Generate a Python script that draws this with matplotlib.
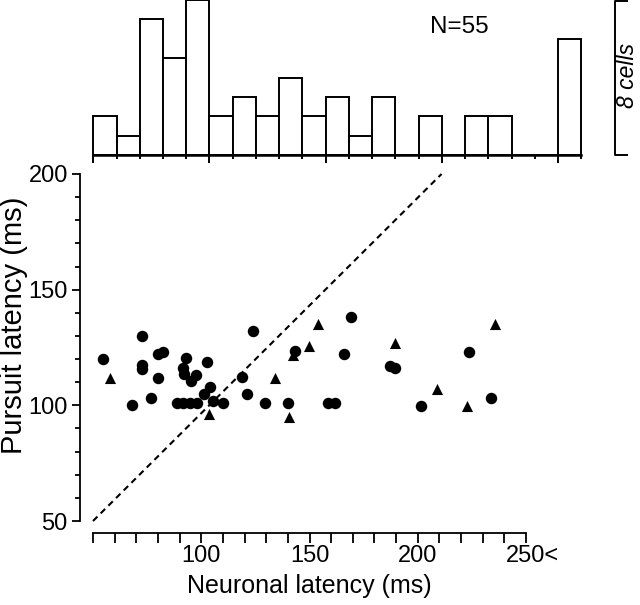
import numpy as np
import matplotlib
matplotlib.use('Agg')
import matplotlib.pyplot as plt
from matplotlib import transforms

plt.rcParams['font.family'] = ['Liberation Sans', 'DejaVu Sans']

# histogram of neuronal latency, 10 ms bins (last bin = 250<)
bin_left = np.arange(50, 260, 10)
hist_counts = [2, 1, 7, 5, 8, 2, 3, 2, 4, 2, 3, 1, 3, 0, 2, 0, 2, 2, 0, 0, 6]

# scatter: neuronal latency vs pursuit latency
circle_x = [54.5, 68.2, 72.5, 72.5, 72.8, 76.8, 80.2, 82.5, 80.2, 93.0,
            91.7, 92.0, 95.3, 97.6, 88.7, 91.7, 94.8, 97.9, 102.5, 104.0,
            101.4, 105.6, 110.2, 118.7, 121.0, 124.0, 129.4, 140.2, 143.3, 166.1,
            169.2, 158.7, 161.8, 187.2, 189.5, 201.4, 223.8, 233.7]
circle_y = [120.0, 100.0, 130.1, 117.4, 115.7, 103.0, 122.1, 123.2, 112.0, 120.3,
            116.0, 113.6, 110.5, 113.1, 100.9, 100.9, 100.9, 100.9, 118.9, 108.1,
            104.9, 102.0, 100.9, 112.1, 104.9, 132.1, 100.9, 101.1, 123.5, 122.2,
            138.3, 100.9, 100.9, 117.0, 116.0, 99.7, 123.2, 103.0]
tri_x = [57.9, 103.6, 134.1, 140.5, 142.5, 149.9, 154.1, 189.5, 209.0, 222.9, 235.7]
tri_y = [111.7, 96.3, 111.7, 95.1, 121.8, 125.8, 135.0, 126.8, 106.9, 99.7, 135.0]

# unity line as drawn in the figure
diag_x = [50, 211]
diag_y = [50, 200]

W, H = 640, 605
fig = plt.figure(figsize=(W / 100, H / 100), dpi=100)

# ---- scatter panel
ax = fig.add_axes([93 / W, 1 - 521 / H, (526 - 93) / W, (521 - 174) / H])
ax.plot(diag_x, diag_y, color='black', lw=1.5, linestyle=(0, (3, 2.2)), clip_on=False)
ax.scatter(circle_x, circle_y, s=68, marker='o', color='black', linewidths=0, clip_on=False)
ax.scatter(tri_x, tri_y, s=64, marker='^', color='black', linewidths=0, clip_on=False)

ax.set_xlim(50, 250)
ax.set_ylim(50, 200)
for side in ['top', 'right']:
    ax.spines[side].set_visible(False)
ax.spines['left'].set_position(('outward', 13 * 0.72))
ax.spines['bottom'].set_position(('outward', 12 * 0.72))
for side in ['left', 'bottom']:
    ax.spines[side].set_linewidth(1.3)

ax.set_xticks([100, 150, 200, 250])
ax.set_xticklabels(['100', '150', '200', '250<'])
ax.set_xticks(np.arange(50, 251, 10), minor=True)
ax.set_yticks([50, 100, 150, 200])
ax.set_yticks(np.arange(50, 201, 10), minor=True)
ax.tick_params(axis='x', which='both', length=7.2, width=1.3, pad=1.5, labelsize=17)
ax.tick_params(axis='y', which='major', length=5.8, width=1.3, pad=3, labelsize=17)
ax.tick_params(axis='y', which='minor', length=3.6, width=1.3)
# keep "250" centred on its tick, "<" hangs to the right
lab = ax.get_xticklabels()[-1]
lab.set_transform(lab.get_transform() + transforms.ScaledTranslation(0.068, 0, fig.dpi_scale_trans))

ax.set_xlabel('Neuronal latency (ms)', fontsize=18, labelpad=5)
fig.text(22 / W, 1 - 325 / H, 'Pursuit latency (ms)', fontsize=21, rotation=90,
         rotation_mode='anchor', ha='center', va='baseline')

# ---- histogram panel
hx = fig.add_axes([93.3 / W, 1 - 155 / H, 488 / W, 155 / H])
hx.bar(bin_left, hist_counts, width=10, align='edge', facecolor='white',
       edgecolor='black', linewidth=1.4, clip_on=False)
hx.set_xlim(50, 260)
hx.set_ylim(0, 8)
for side in ['top', 'right', 'left']:
    hx.spines[side].set_visible(False)
hx.spines['bottom'].set_linewidth(1.8)
hx.set_yticks([])
hx.set_xticks(np.arange(50, 251, 50))
hx.set_xticks(np.arange(50, 261, 10), minor=True)
hx.set_xticklabels([])
hx.tick_params(axis='x', which='major', length=6, width=1.4)
hx.tick_params(axis='x', which='minor', length=3, width=1.4)

hx.text(0.751, 0.826, 'N=55', transform=hx.transAxes, fontsize=17.5,
        ha='center', va='center')

# scale bar: 8 cells
bar_tr = transforms.blended_transform_factory(hx.transAxes, hx.transData)
hx.plot([1.093, 1.069, 1.069, 1.093], [7.95, 7.95, 0, 0], color='black', lw=1.4,
        transform=bar_tr, clip_on=False)
fig.text(628 / W, 1 - 75 / H, '8 cells', fontsize=16.5, style='italic', rotation=90,
         ha='center', va='center')

fig.savefig('out.png', dpi=100)
